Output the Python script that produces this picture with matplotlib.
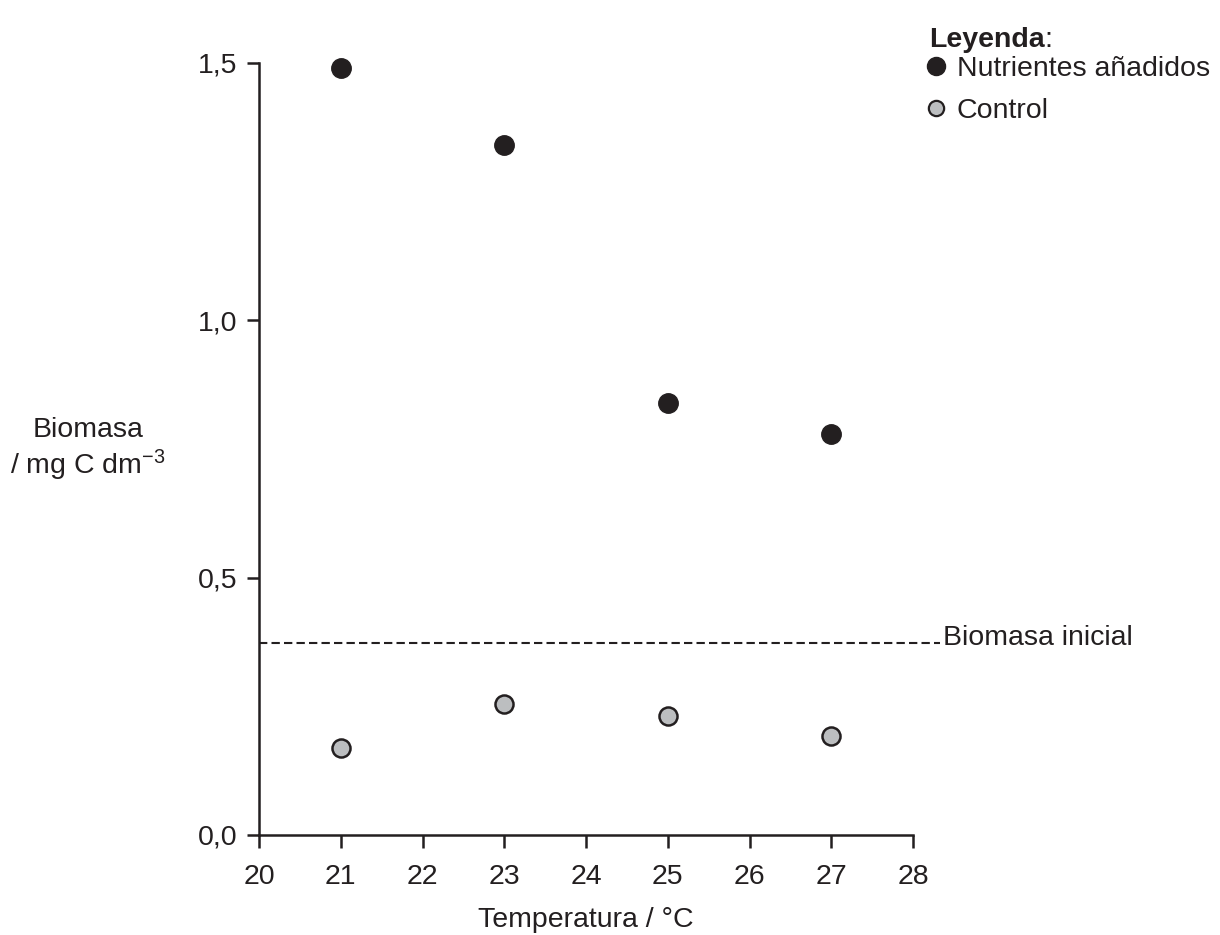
import matplotlib
matplotlib.use("Agg")
import matplotlib.pyplot as plt
from matplotlib.lines import Line2D

plt.rcParams['font.family'] = ['Liberation Sans', 'DejaVu Sans']
plt.rcParams['mathtext.fontset'] = 'custom'
plt.rcParams['mathtext.rm'] = 'Liberation Sans'
plt.rcParams['mathtext.it'] = 'Liberation Sans'

# Data
temperatures = [21, 23, 25, 27]
nutrientes = [1.49, 1.34, 0.84, 0.78]
control = [0.17, 0.255, 0.232, 0.193]
biomasa_inicial = 0.373
x_ticks = [20, 21, 22, 23, 24, 25, 26, 27, 28]
y_ticks = [0.0, 0.5, 1.0, 1.5]
y_tick_labels = ["0,0", "0,5", "1,0", "1,5"]

ink = "#231f20"
grey = "#bcbec0"
fs = 20.5

fig = plt.figure(figsize=(12.2, 9.35), dpi=100)
ax = fig.add_axes([259/1220, 1 - 835/935, (913-259)/1220, (835-63)/935])

ax.scatter(temperatures, nutrientes, s=14**2, color=ink, zorder=3, clip_on=False)
ax.scatter(temperatures, control, s=13**2, facecolor=grey, edgecolor=ink,
           linewidth=1.8, zorder=3, clip_on=False)

ax.plot([20, 28.33], [biomasa_inicial, biomasa_inicial], linestyle=(0, (4, 2)),
        color=ink, linewidth=1.5, clip_on=False)
ax.text(28.37, biomasa_inicial - 0.004, "Biomasa inicial", fontsize=fs, color=ink,
        va='baseline', ha='left')

ax.set_xlim(20, 28)
ax.set_ylim(0, 1.5)
ax.set_xticks(x_ticks)
ax.set_yticks(y_ticks)
ax.set_yticklabels(y_tick_labels)
for s in ['top', 'right']:
    ax.spines[s].set_visible(False)
for s in ['left', 'bottom']:
    ax.spines[s].set_linewidth(1.8)
    ax.spines[s].set_color(ink)
ax.tick_params(direction='out', length=9, width=1.8, color=ink,
               labelsize=fs, labelcolor=ink)
ax.tick_params(axis='x', pad=12)
ax.tick_params(axis='y', pad=6.5)

ax.set_xlabel("Temperatura / °C", fontsize=fs, color=ink, labelpad=12)
fig.text(88/1220, 1 - 450/935, "Biomasa\n/ mg C dm$^{-3}$", fontsize=fs, color=ink,
         ha='center', va='center', linespacing=1.17)

# Legend
title = fig.text(929/1220, 1 - 47/935, "Leyenda", fontsize=fs, fontweight='bold',
                 color=ink, ha='left', va='baseline')
ax.annotate(":", xy=(1, 0), xycoords=title, fontsize=fs, color=ink,
            ha='left', va='bottom', annotation_clip=False)
handles = [
    Line2D([], [], linestyle='none', marker='o', markersize=13, color=ink),
    Line2D([], [], linestyle='none', marker='o', markersize=11, markerfacecolor=grey,
           markeredgecolor=ink, markeredgewidth=1.6),
]
leg = fig.legend(handles, ["Nutrientes añadidos", "Control"], loc='upper left',
                 bbox_to_anchor=(927/1220, 1 - 56/935), frameon=False, fontsize=fs,
                 handlelength=0.6, handletextpad=0.44, labelspacing=0.57,
                 borderpad=0, borderaxespad=0)
for t in leg.get_texts():
    t.set_color(ink)

fig.savefig("out.png", dpi=100)
